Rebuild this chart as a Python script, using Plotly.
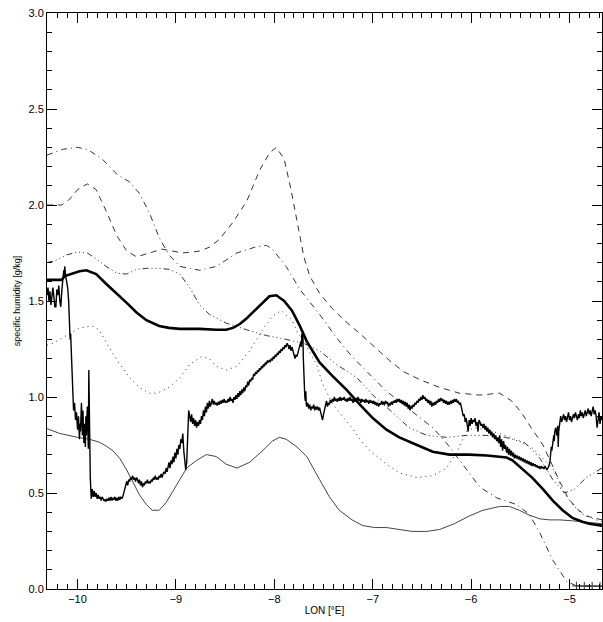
import plotly.graph_objects as go

# ---------------- data ----------------
thick_lon = [-10.31, -10.16, -10.13, -10.05, -9.98, -9.91, -9.81, -9.71, -9.60, -9.50, -9.40, -9.30, -9.17, -9.07,
             -8.96, -8.76, -8.59, -8.49, -8.42, -8.35, -8.28, -8.20, -8.12, -8.05, -7.98, -7.90, -7.82, -7.74, -7.67,
             -7.54, -7.41, -7.27, -7.13, -7.00, -6.86, -6.73, -6.55, -6.39, -6.22, -6.02, -5.84, -5.71, -5.64, -5.58,
             -5.49, -5.38, -5.27, -5.17, -5.07, -4.97, -4.87, -4.80, -4.67]
thick_val = [1.61, 1.61, 1.63, 1.645, 1.655, 1.66, 1.64, 1.59, 1.54, 1.49, 1.44, 1.40, 1.37, 1.36,
             1.355, 1.355, 1.35, 1.35, 1.36, 1.38, 1.41, 1.45, 1.49, 1.525, 1.53, 1.50, 1.45, 1.37, 1.29,
             1.18, 1.11, 1.04, 0.96, 0.89, 0.83, 0.79, 0.75, 0.715, 0.70, 0.70, 0.695, 0.69, 0.685, 0.67,
             0.63, 0.58, 0.52, 0.46, 0.41, 0.37, 0.35, 0.34, 0.33]

thin_lon = [-10.31, -10.18, -10.00, -9.88, -9.78, -9.71, -9.64, -9.57, -9.50, -9.44, -9.37, -9.30, -9.24, -9.17,
            -9.10, -9.03, -8.96, -8.89, -8.79, -8.69, -8.59, -8.49, -8.38, -8.25, -8.12, -8.02, -7.95, -7.88,
            -7.77, -7.67, -7.54, -7.44, -7.34, -7.21, -7.10, -6.98, -6.86, -6.73, -6.60, -6.45, -6.32, -6.17,
            -6.02, -5.88, -5.71, -5.61, -5.51, -5.41, -5.30, -5.20, -5.10, -4.97, -4.85, -4.75, -4.67]
thin_val = [0.835, 0.81, 0.79, 0.78, 0.765, 0.745, 0.72, 0.68, 0.62, 0.56, 0.49, 0.44, 0.41, 0.41,
            0.45, 0.51, 0.57, 0.63, 0.67, 0.70, 0.69, 0.65, 0.63, 0.66, 0.72, 0.77, 0.79, 0.78,
            0.74, 0.69, 0.57, 0.48, 0.41, 0.36, 0.33, 0.32, 0.32, 0.31, 0.30, 0.30, 0.31, 0.34,
            0.38, 0.41, 0.43, 0.43, 0.41, 0.385, 0.365, 0.36, 0.36, 0.355, 0.35, 0.345, 0.34]

dash_lon = [-10.31, -10.16, -10.08, -10.00, -9.90, -9.81, -9.71, -9.60, -9.50, -9.40, -9.27, -9.14, -8.93, -8.76,
            -8.66, -8.56, -8.42, -8.28, -8.15, -8.05, -7.98, -7.90, -7.83, -7.76, -7.70, -7.64, -7.54, -7.41,
            -7.29, -7.13, -6.98, -6.83, -6.68, -6.52, -6.32, -6.12, -5.91, -5.71, -5.59, -5.49, -5.39, -5.27,
            -5.18, -5.10, -5.02, -4.93, -4.83, -4.67]
dash_val = [2.0, 2.0, 2.03, 2.08, 2.11, 2.08, 1.97, 1.84, 1.76, 1.73, 1.75, 1.77, 1.75, 1.76,
            1.78, 1.82, 1.91, 2.02, 2.18, 2.27, 2.30, 2.24, 2.08, 1.88, 1.73, 1.63, 1.54, 1.46,
            1.40, 1.33, 1.26, 1.19, 1.13, 1.09, 1.05, 1.02, 1.01, 1.02, 0.98, 0.92, 0.84, 0.75,
            0.65, 0.56, 0.48, 0.42, 0.38, 0.36]

dashdot_lon = [-10.31, -10.15, -10.00, -9.90, -9.75, -9.60, -9.47, -9.37, -9.27, -9.17, -9.07, -8.96, -8.76,
               -8.59, -8.38, -8.20, -8.08, -8.02, -7.88, -7.74, -7.54, -7.37, -7.21, -7.03, -6.86, -6.70,
               -6.52, -6.39, -6.25, -6.09, -5.91, -5.74, -5.54, -5.41, -5.30, -5.17, -5.03, -4.93, -4.67]
dashdot_val = [2.26, 2.29, 2.30, 2.29, 2.24, 2.16, 2.12, 2.06, 1.96, 1.83, 1.74, 1.68, 1.66,
               1.68, 1.75, 1.78, 1.79, 1.77, 1.68, 1.56, 1.43, 1.31, 1.21, 1.12, 1.03, 0.965,
               0.89, 0.84, 0.76, 0.65, 0.53, 0.475, 0.44, 0.39, 0.29, 0.15, 0.04, 0.016, 0.015]

plus_lon = [-4.93, -4.85, -4.77, -4.69]
plus_val = [0.016, 0.015, 0.015, 0.015]

d3_lon = [-10.31, -10.23, -10.11, -10.00, -9.90, -9.81, -9.71, -9.60, -9.50, -9.40, -9.30, -9.17, -9.07, -8.96,
          -8.86, -8.76, -8.66, -8.49, -8.28, -8.08, -7.88, -7.70, -7.54, -7.37, -7.16, -7.00, -6.80, -6.63,
          -6.45, -6.25, -6.05, -5.85, -5.65, -5.45, -5.30, -5.17, -5.05, -4.95, -4.83, -4.67]
d3_val = [1.70, 1.71, 1.74, 1.755, 1.75, 1.72, 1.68, 1.645, 1.64, 1.665, 1.67, 1.67, 1.665, 1.64,
          1.57, 1.48, 1.43, 1.385, 1.35, 1.32, 1.30, 1.28, 1.24, 1.17, 1.10, 1.01, 0.92, 0.84,
          0.80, 0.79, 0.80, 0.80, 0.79, 0.76, 0.68, 0.57, 0.50, 0.52, 0.58, 0.63]

dot_lon = [-10.31, -10.25, -10.18, -10.08, -9.98, -9.85, -9.78, -9.67, -9.57, -9.47, -9.37, -9.27, -9.19, -9.07,
           -8.96, -8.86, -8.74, -8.66, -8.59, -8.49, -8.38, -8.25, -8.12, -8.02, -7.93, -7.82, -7.76, -7.71,
           -7.57, -7.51, -7.41, -7.27, -7.21, -7.13, -7.03, -6.86, -6.73, -6.55, -6.39, -6.25, -6.15, -6.05,
           -5.97, -5.85, -5.71, -5.50, -5.38, -5.17, -5.07, -4.97, -4.87, -4.73, -4.67]
dot_val = [1.27, 1.28, 1.30, 1.33, 1.36, 1.37, 1.35, 1.25, 1.17, 1.10, 1.05, 1.02, 1.02, 1.05,
           1.10, 1.17, 1.21, 1.20, 1.16, 1.14, 1.16, 1.24, 1.35, 1.42, 1.45, 1.40, 1.33, 1.30,
           1.17, 1.07, 0.965, 0.875, 0.84, 0.78, 0.72, 0.65, 0.605, 0.58, 0.59, 0.63, 0.71, 0.82,
           0.84, 0.83, 0.81, 0.77, 0.735, 0.63, 0.51, 0.44, 0.39, 0.36, 0.35]

obs_pairs = [
    (-10.31, 1.53), (-10.30, 1.57), (-10.29, 1.50), (-10.28, 1.55), (-10.27, 1.48), (-10.26, 1.54), (-10.25, 1.57),
    (-10.24, 1.52), (-10.23, 1.47), (-10.22, 1.47), (-10.21, 1.56), (-10.20, 1.53), (-10.19, 1.58), (-10.18, 1.50),
    (-10.17, 1.47), (-10.16, 1.55), (-10.15, 1.60), (-10.14, 1.66), (-10.135, 1.62), (-10.13, 1.68), (-10.12, 1.63),
    (-10.11, 1.60), (-10.10, 1.57), (-10.09, 1.50), (-10.085, 1.40), (-10.08, 1.35), (-10.075, 1.30), (-10.07, 1.33),
    (-10.065, 1.26), (-10.06, 1.23), (-10.055, 1.15), (-10.05, 1.02), (-10.045, 0.98), (-10.04, 0.93), (-10.03, 0.97),
    (-10.02, 0.88), (-10.01, 0.92), (-10.00, 0.83), (-9.99, 0.90), (-9.985, 0.80), (-9.98, 0.78), (-9.975, 0.86),
    (-9.97, 0.82), (-9.96, 0.97), (-9.955, 0.85), (-9.95, 0.80), (-9.945, 0.93), (-9.94, 0.84), (-9.935, 0.76),
    (-9.93, 0.86), (-9.92, 0.74), (-9.915, 0.90), (-9.91, 0.80), (-9.90, 0.95), (-9.895, 0.85), (-9.89, 0.73),
    (-9.885, 1.14), (-9.88, 0.78), (-9.875, 0.66), (-9.87, 0.58), (-9.865, 0.52), (-9.86, 0.47), (-9.85, 0.52),
    (-9.84, 0.48), (-9.83, 0.51), (-9.82, 0.48), (-9.81, 0.50), (-9.80, 0.47), (-9.79, 0.49), (-9.78, 0.47),
    (-9.77, 0.48), (-9.76, 0.46), (-9.75, 0.48), (-9.74, 0.47), (-9.73, 0.46), (-9.72, 0.465), (-9.71, 0.455),
    (-9.70, 0.47), (-9.69, 0.46), (-9.68, 0.475), (-9.67, 0.46), (-9.66, 0.48), (-9.65, 0.46), (-9.64, 0.475),
    (-9.63, 0.465), (-9.62, 0.48), (-9.61, 0.46), (-9.60, 0.475), (-9.59, 0.46), (-9.58, 0.48), (-9.57, 0.465),
    (-9.56, 0.48), (-9.55, 0.47), (-9.54, 0.48), (-9.53, 0.50), (-9.52, 0.53), (-9.51, 0.55), (-9.50, 0.56),
    (-9.49, 0.54), (-9.48, 0.57), (-9.47, 0.56), (-9.46, 0.58), (-9.45, 0.57), (-9.44, 0.59), (-9.43, 0.57),
    (-9.42, 0.58), (-9.41, 0.56), (-9.40, 0.58), (-9.39, 0.57), (-9.38, 0.55), (-9.37, 0.57), (-9.36, 0.54),
    (-9.35, 0.56), (-9.34, 0.53), (-9.33, 0.55), (-9.32, 0.54), (-9.31, 0.56), (-9.30, 0.55), (-9.29, 0.57),
    (-9.28, 0.55), (-9.27, 0.56), (-9.26, 0.55), (-9.25, 0.57), (-9.24, 0.56), (-9.23, 0.58), (-9.22, 0.57),
    (-9.21, 0.59), (-9.20, 0.57), (-9.19, 0.58), (-9.18, 0.57), (-9.17, 0.59), (-9.16, 0.58), (-9.15, 0.60),
    (-9.14, 0.58), (-9.13, 0.60), (-9.12, 0.61), (-9.11, 0.60), (-9.10, 0.63), (-9.09, 0.61), (-9.08, 0.64),
    (-9.07, 0.66), (-9.06, 0.63), (-9.05, 0.67), (-9.04, 0.65), (-9.03, 0.69), (-9.02, 0.66), (-9.01, 0.71),
    (-9.00, 0.68), (-8.99, 0.73), (-8.98, 0.70), (-8.97, 0.75), (-8.96, 0.73), (-8.95, 0.78), (-8.94, 0.76),
    (-8.93, 0.81), (-8.92, 0.72), (-8.91, 0.64), (-8.90, 0.62), (-8.89, 0.66), (-8.88, 0.78), (-8.87, 0.93),
    (-8.86, 0.90), (-8.85, 0.87), (-8.84, 0.91), (-8.83, 0.86), (-8.82, 0.89), (-8.81, 0.85), (-8.80, 0.88),
    (-8.79, 0.84), (-8.78, 0.87), (-8.77, 0.85), (-8.76, 0.88), (-8.75, 0.86), (-8.74, 0.90), (-8.73, 0.88),
    (-8.72, 0.93), (-8.71, 0.90), (-8.70, 0.95), (-8.69, 0.92), (-8.68, 0.97), (-8.67, 0.94), (-8.66, 0.98),
    (-8.65, 0.95), (-8.64, 0.97), (-8.63, 0.99), (-8.62, 0.96), (-8.61, 0.98), (-8.60, 0.96), (-8.59, 0.97),
    (-8.58, 0.955), (-8.57, 0.975), (-8.56, 0.96), (-8.55, 0.98), (-8.54, 0.965), (-8.53, 0.985), (-8.52, 0.97),
    (-8.51, 0.99), (-8.50, 0.97), (-8.49, 0.98), (-8.48, 0.97), (-8.47, 0.99), (-8.46, 0.975), (-8.45, 1.00),
    (-8.44, 0.98), (-8.43, 0.99), (-8.42, 0.97), (-8.41, 1.00), (-8.40, 0.985), (-8.39, 1.01), (-8.38, 0.99),
    (-8.37, 1.02), (-8.36, 1.00), (-8.35, 1.03), (-8.34, 1.01), (-8.33, 1.04), (-8.32, 1.02), (-8.31, 1.05),
    (-8.30, 1.03), (-8.29, 1.06), (-8.28, 1.05), (-8.27, 1.08), (-8.26, 1.06), (-8.25, 1.09), (-8.24, 1.08),
    (-8.23, 1.10), (-8.22, 1.09), (-8.21, 1.12), (-8.20, 1.11), (-8.19, 1.13), (-8.18, 1.12), (-8.17, 1.14),
    (-8.16, 1.13), (-8.15, 1.15), (-8.14, 1.14), (-8.13, 1.16), (-8.12, 1.15), (-8.11, 1.17), (-8.10, 1.16),
    (-8.09, 1.18), (-8.08, 1.17), (-8.07, 1.19), (-8.06, 1.18), (-8.05, 1.19), (-8.04, 1.185), (-8.03, 1.20),
    (-8.02, 1.19), (-8.01, 1.21), (-8.00, 1.20), (-7.99, 1.22), (-7.98, 1.21), (-7.97, 1.23), (-7.96, 1.22),
    (-7.95, 1.24), (-7.94, 1.23), (-7.93, 1.25), (-7.92, 1.24), (-7.91, 1.26), (-7.90, 1.25), (-7.89, 1.27),
    (-7.88, 1.26), (-7.87, 1.28), (-7.86, 1.27), (-7.85, 1.25), (-7.84, 1.27), (-7.83, 1.24), (-7.82, 1.26),
    (-7.81, 1.23), (-7.80, 1.22), (-7.79, 1.20), (-7.78, 1.22), (-7.77, 1.21), (-7.76, 1.23), (-7.75, 1.25),
    (-7.74, 1.27), (-7.73, 1.29), (-7.725, 1.26), (-7.72, 1.33), (-7.715, 1.28), (-7.71, 1.34), (-7.705, 1.20),
    (-7.70, 1.10), (-7.695, 1.05), (-7.69, 1.00), (-7.685, 0.98), (-7.68, 1.03), (-7.675, 0.96), (-7.67, 0.95),
    (-7.66, 0.97), (-7.65, 0.94), (-7.64, 0.96), (-7.63, 0.93), (-7.62, 0.95), (-7.61, 0.94), (-7.60, 0.96),
    (-7.59, 0.93), (-7.58, 0.95), (-7.57, 0.935), (-7.56, 0.95), (-7.55, 0.93), (-7.54, 0.945), (-7.53, 0.92),
    (-7.52, 0.90), (-7.51, 0.88), (-7.50, 0.91), (-7.49, 0.94), (-7.48, 0.96), (-7.47, 0.98), (-7.46, 0.95),
    (-7.45, 0.97), (-7.44, 0.96), (-7.43, 0.985), (-7.42, 0.97), (-7.41, 0.99), (-7.40, 0.975), (-7.39, 1.00),
    (-7.38, 0.98), (-7.37, 0.99), (-7.36, 0.975), (-7.35, 0.995), (-7.34, 0.98), (-7.33, 1.00), (-7.32, 0.98),
    (-7.31, 0.995), (-7.30, 0.985), (-7.29, 1.00), (-7.28, 0.98), (-7.27, 0.99), (-7.26, 0.975), (-7.25, 0.995),
    (-7.24, 0.98), (-7.23, 1.00), (-7.22, 0.98), (-7.21, 0.99), (-7.20, 0.97), (-7.19, 0.99), (-7.18, 0.975),
    (-7.17, 0.995), (-7.16, 0.98), (-7.15, 1.00), (-7.14, 0.98), (-7.13, 0.99), (-7.12, 0.97), (-7.11, 0.99),
    (-7.10, 0.975), (-7.09, 0.985), (-7.08, 0.97), (-7.07, 0.99), (-7.06, 0.975), (-7.05, 0.98), (-7.04, 0.965),
    (-7.03, 0.985), (-7.02, 0.97), (-7.01, 0.98), (-7.00, 0.965), (-6.99, 0.98), (-6.98, 0.96), (-6.97, 0.975),
    (-6.96, 0.955), (-6.95, 0.97), (-6.94, 0.95), (-6.93, 0.965), (-6.92, 0.96), (-6.91, 0.98), (-6.90, 0.96),
    (-6.89, 0.975), (-6.88, 0.96), (-6.87, 0.98), (-6.86, 0.965), (-6.85, 0.975), (-6.84, 0.95), (-6.83, 0.965),
    (-6.82, 0.96), (-6.81, 0.975), (-6.80, 0.96), (-6.79, 0.98), (-6.78, 0.97), (-6.77, 0.985), (-6.76, 0.97),
    (-6.75, 0.99), (-6.74, 0.975), (-6.73, 0.99), (-6.72, 0.97), (-6.71, 0.985), (-6.70, 0.965), (-6.69, 0.98),
    (-6.68, 0.96), (-6.67, 0.975), (-6.66, 0.95), (-6.65, 0.97), (-6.64, 0.94), (-6.63, 0.96), (-6.62, 0.93),
    (-6.61, 0.955), (-6.60, 0.94), (-6.59, 0.96), (-6.58, 0.95), (-6.57, 0.97), (-6.56, 0.96), (-6.55, 0.98),
    (-6.54, 0.97), (-6.53, 0.99), (-6.52, 0.98), (-6.51, 1.00), (-6.50, 0.985), (-6.49, 1.01), (-6.48, 0.99),
    (-6.47, 1.00), (-6.46, 0.98), (-6.45, 0.99), (-6.44, 0.97), (-6.43, 0.985), (-6.42, 0.96), (-6.41, 0.98),
    (-6.40, 0.95), (-6.39, 0.97), (-6.38, 0.955), (-6.37, 0.975), (-6.36, 0.96), (-6.35, 0.98), (-6.34, 0.97),
    (-6.33, 0.99), (-6.32, 0.975), (-6.31, 0.995), (-6.30, 0.98), (-6.29, 0.99), (-6.28, 0.97), (-6.27, 0.985),
    (-6.26, 0.965), (-6.25, 0.98), (-6.24, 0.96), (-6.23, 0.975), (-6.22, 0.96), (-6.21, 0.98), (-6.20, 0.965),
    (-6.19, 0.985), (-6.18, 0.97), (-6.17, 0.99), (-6.16, 0.975), (-6.15, 0.99), (-6.14, 0.97), (-6.13, 0.98),
    (-6.12, 0.96), (-6.11, 0.97), (-6.10, 0.95), (-6.09, 0.93), (-6.08, 0.90), (-6.07, 0.91), (-6.06, 0.87),
    (-6.05, 0.89), (-6.04, 0.86), (-6.03, 0.82), (-6.02, 0.88), (-6.01, 0.85), (-6.00, 0.89), (-5.99, 0.86),
    (-5.98, 0.88), (-5.97, 0.87), (-5.96, 0.89), (-5.95, 0.85), (-5.94, 0.87), (-5.93, 0.82), (-5.92, 0.88),
    (-5.91, 0.87), (-5.90, 0.85), (-5.89, 0.86), (-5.88, 0.84), (-5.87, 0.86), (-5.86, 0.83), (-5.85, 0.85),
    (-5.84, 0.82), (-5.83, 0.84), (-5.82, 0.81), (-5.81, 0.83), (-5.80, 0.80), (-5.79, 0.82), (-5.78, 0.79),
    (-5.77, 0.81), (-5.76, 0.78), (-5.75, 0.80), (-5.74, 0.77), (-5.73, 0.79), (-5.72, 0.76), (-5.71, 0.80),
    (-5.70, 0.74), (-5.69, 0.78), (-5.68, 0.72), (-5.67, 0.77), (-5.66, 0.73), (-5.65, 0.75), (-5.64, 0.71),
    (-5.63, 0.74), (-5.62, 0.70), (-5.61, 0.73), (-5.60, 0.695), (-5.59, 0.72), (-5.58, 0.69), (-5.57, 0.71),
    (-5.56, 0.68), (-5.55, 0.70), (-5.54, 0.68), (-5.53, 0.695), (-5.52, 0.675), (-5.51, 0.69), (-5.50, 0.67),
    (-5.49, 0.685), (-5.48, 0.665), (-5.47, 0.68), (-5.46, 0.66), (-5.45, 0.675), (-5.44, 0.655), (-5.43, 0.67),
    (-5.42, 0.65), (-5.41, 0.665), (-5.40, 0.645), (-5.39, 0.66), (-5.38, 0.64), (-5.37, 0.655), (-5.36, 0.64),
    (-5.35, 0.65), (-5.34, 0.635), (-5.33, 0.645), (-5.32, 0.63), (-5.31, 0.64), (-5.30, 0.625), (-5.29, 0.64),
    (-5.28, 0.63), (-5.27, 0.635), (-5.26, 0.625), (-5.25, 0.64), (-5.24, 0.63), (-5.23, 0.62), (-5.22, 0.63),
    (-5.21, 0.64), (-5.20, 0.66), (-5.19, 0.70), (-5.185, 0.74), (-5.18, 0.72), (-5.17, 0.78), (-5.16, 0.80),
    (-5.155, 0.77), (-5.15, 0.82), (-5.14, 0.84), (-5.13, 0.80), (-5.12, 0.85), (-5.115, 0.74), (-5.11, 0.82),
    (-5.10, 0.88), (-5.09, 0.90), (-5.08, 0.87), (-5.07, 0.89), (-5.06, 0.91), (-5.05, 0.88), (-5.04, 0.90),
    (-5.03, 0.87), (-5.02, 0.89), (-5.01, 0.92), (-5.00, 0.88), (-4.99, 0.90), (-4.98, 0.87), (-4.97, 0.89),
    (-4.96, 0.91), (-4.95, 0.89), (-4.94, 0.92), (-4.93, 0.90), (-4.92, 0.88), (-4.91, 0.91), (-4.90, 0.89),
    (-4.89, 0.93), (-4.88, 0.90), (-4.87, 0.92), (-4.86, 0.89), (-4.85, 0.91), (-4.84, 0.93), (-4.83, 0.90),
    (-4.82, 0.92), (-4.81, 0.94), (-4.80, 0.91), (-4.79, 0.93), (-4.78, 0.90), (-4.77, 0.92), (-4.76, 0.95),
    (-4.75, 0.91), (-4.74, 0.93), (-4.73, 0.90), (-4.72, 0.84), (-4.71, 0.88), (-4.70, 0.92), (-4.69, 0.86),
    (-4.68, 0.90), (-4.67, 0.88),
]
obs_lon = [p[0] for p in obs_pairs]
obs_val = [p[1] for p in obs_pairs]

x_ticks = [-10, -9, -8, -7, -6, -5]
y_ticks = [0.0, 0.5, 1.0, 1.5, 2.0, 2.5, 3.0]
x_title = "LON [°E]"
y_title = "specific humidity [g/kg]"

# ---------------- figure ----------------
fig = go.Figure()

def line(x, y, dash="solid", width=1.0, color="#000000"):
    fig.add_trace(go.Scatter(x=x, y=y, mode="lines", showlegend=False, hoverinfo="skip",
                             line=dict(color=color, width=width, dash=dash)))

line(dash_lon, dash_val, dash="6px,5px", width=1.0, color="#333333")
line(dashdot_lon, dashdot_val, dash="6px,4px,1px,4px", width=1.0, color="#333333")
line(d3_lon, d3_val, dash="6px,3px,1px,3px,1px,3px,1px,3px", width=1.0, color="#333333")
line(dot_lon, dot_val, dash="1px,4px", width=1.0, color="#333333")
line(thin_lon, thin_val, width=1.0, color="#444444")
line(obs_lon, obs_val, width=1.4, color="#000000")
line(thick_lon, thick_val, width=2.6, color="#000000")
fig.add_trace(go.Scatter(x=plus_lon, y=plus_val, mode="lines+markers", showlegend=False, hoverinfo="skip",
                         line=dict(color="#333333", width=1),
                         marker=dict(symbol="cross-thin", size=6, line=dict(color="#333333", width=1))))

font_family = "Liberation Sans, Arial, sans-serif"
fig.update_layout(
    width=603, height=622,
    margin=dict(l=47, r=1, t=13, b=33),
    paper_bgcolor="white", plot_bgcolor="white",
    font=dict(family=font_family, size=11, color="#000000"),
    showlegend=False,
)
fig.update_xaxes(
    range=[-10.31, -4.67], tickvals=x_ticks, ticktext=["\u2212" + str(abs(v)) for v in x_ticks],
    ticks="inside", ticklen=10, tickwidth=1, tickcolor="#000000",
    minor=dict(dtick=0.1, tick0=0, ticks="inside", ticklen=5, tickwidth=1, tickcolor="#000000"),
    showline=True, linecolor="#000000", linewidth=1, mirror="allticks",
    showgrid=False, zeroline=False,
    tickfont=dict(size=11), title=dict(text=x_title, font=dict(size=10), standoff=2),
)
fig.update_yaxes(
    range=[0, 3.0], tickvals=y_ticks, tickformat=".1f",
    ticks="inside", ticklen=10, tickwidth=1, tickcolor="#000000",
    minor=dict(dtick=0.1, tick0=0, ticks="inside", ticklen=5, tickwidth=1, tickcolor="#000000"),
    showline=True, linecolor="#000000", linewidth=1, mirror="allticks",
    showgrid=False, zeroline=False,
    tickfont=dict(size=11), title=dict(text=y_title, font=dict(size=9), standoff=6),
)

fig.write_html("out.html")
